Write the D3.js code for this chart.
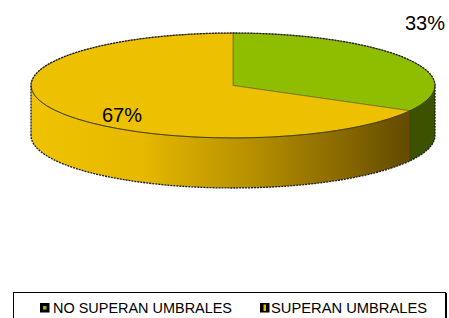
<!DOCTYPE html>
<html>
<head>
<meta charset="utf-8">
<script src="https://cdn.jsdelivr.net/npm/d3@7/dist/d3.min.js"></script>
<style>
  body { margin: 0; background: #fff; }
  svg { display: block; font-family: "Liberation Sans", Arial, sans-serif; }
</style>
</head>
<body>
<div id="viz"></div>
<script>
var categories = ["NO SUPERAN UMBRALES", "SUPERAN UMBRALES"],
    values = [33, 67],
    labels = ["33%", "67%"];

var topColors = ["#8fbe00", "#edc000"],
    markerColors = ["#8fbe00", "#e8b800"];

var width = 449, height = 318,
    cx = 233, cy = 85.5, rx = 202, ry = 52.5, depth = 50;

var svg = d3.select("#viz")
    .append("svg")
    .attr("width", width)
    .attr("height", height);

var defs = svg.append("defs");
var grad = defs.append("linearGradient")
    .attr("id", "sideYellow")
    .attr("gradientUnits", "userSpaceOnUse")
    .attr("x1", cx - rx).attr("x2", cx + rx * 0.85)
    .attr("y1", 0).attr("y2", 0);
[[0, "#efc300"], [0.3, "#e6b800"], [0.6, "#b48e00"], [0.85, "#856600"], [1, "#654c00"]]
    .forEach(function(s){
        grad.append("stop").attr("offset", s[0]).attr("stop-color", s[1]);
    });
var sideFills = ["#3d5200", "url(#sideYellow)"];

var arcs = d3.pie().sort(null)(values);

function pt(a, dy){
    return [cx + rx * Math.sin(a), cy - ry * Math.cos(a) + (dy || 0)];
}

function topPath(d){
    var p0 = pt(d.startAngle), p1 = pt(d.endAngle),
        large = (d.endAngle - d.startAngle) > Math.PI ? 1 : 0;
    return "M" + cx + "," + cy + "L" + p0 + "A" + rx + "," + ry + " 0 " + large + " 1 " + p1 + "Z";
}

function sidePath(d){
    var a0 = Math.max(d.startAngle, Math.PI / 2),
        a1 = Math.min(d.endAngle, Math.PI * 1.5);
    if (a1 <= a0) return null;
    var p0 = pt(a0), p1 = pt(a1), q0 = pt(a0, depth), q1 = pt(a1, depth);
    return "M" + p0 + "A" + rx + "," + ry + " 0 0 1 " + p1 +
        "L" + q1 + "A" + rx + "," + ry + " 0 0 0 " + q0 + "Z";
}

var pie = svg.append("g");

// sides
pie.selectAll("path.side")
    .data(arcs)
    .enter().append("path")
    .attr("class", "side")
    .attr("d", sidePath)
    .style("fill", function(d, i){return sideFills[i];})
    .style("stroke", "none");

// tops
pie.selectAll("path.top")
    .data(arcs)
    .enter().append("path")
    .attr("class", "top")
    .attr("d", topPath)
    .style("fill", function(d, i){return topColors[i];})
    .style("stroke", "#5a5a2a")
    .style("stroke-width", 0.6);

// outline: back rim, left/right verticals, bottom rim
var L = pt(Math.PI * 1.5), R = pt(Math.PI / 2);
pie.append("path")
    .attr("d", "M" + pt(Math.PI * 1.5, depth) + "L" + L +
        "A" + rx + "," + ry + " 0 0 1 " + R + "L" + pt(Math.PI / 2, depth) +
        "A" + rx + "," + ry + " 0 0 1 " + pt(Math.PI * 1.5, depth))
    .style("fill", "none")
    .style("stroke", "#1a1a1a")
    .style("stroke-width", 1.3)
    .style("stroke-dasharray", "2,1");

// front top rim
pie.append("path")
    .attr("d", "M" + R + "A" + rx + "," + ry + " 0 0 1 " + L)
    .style("fill", "none")
    .style("stroke", "#3a3000")
    .style("stroke-width", 0.8);

// slice cut on the side
var cut = pt(arcs[0].endAngle);
pie.append("line")
    .attr("x1", cut[0]).attr("y1", cut[1])
    .attr("x2", cut[0]).attr("y2", cut[1] + depth)
    .style("stroke", "#3a3a00")
    .style("stroke-width", 0.6);

// data labels
var labelPos = [[425, 30], [122, 122]];
svg.selectAll("text.lbl")
    .data(labels)
    .enter().append("text")
    .attr("class", "lbl")
    .attr("x", function(d, i){return labelPos[i][0];})
    .attr("y", function(d, i){return labelPos[i][1];})
    .attr("text-anchor", "middle")
    .style("font-size", "20px")
    .style("fill", "#000")
    .text(function(d){return d;});

// legend
var legend = svg.append("g");
legend.append("rect")
    .attr("x", 13.5).attr("y", 292.5)
    .attr("width", 432).attr("height", 40)
    .style("fill", "#fff")
    .style("stroke", "#000")
    .style("stroke-width", 1);
legend.append("line")
    .attr("x1", 446.5).attr("y1", 293).attr("x2", 446.5).attr("y2", 318)
    .style("stroke", "#000").style("stroke-width", 1);

var legX = [40, 260], legTextX = [53, 271], legTextLen = [179, 156];
var item = legend.selectAll("g.item")
    .data(categories)
    .enter().append("g")
    .attr("class", "item");
item.append("rect")
    .attr("x", function(d, i){return legX[i];})
    .attr("y", 303).attr("width", 9.5).attr("height", 9.5)
    .style("fill", "#000");
item.append("rect")
    .attr("x", function(d, i){return legX[i] + (i ? 3.5 : 3);})
    .attr("y", function(d, i){return i ? 304.5 : 306;})
    .attr("width", function(d, i){return i ? 2.5 : 3.5;})
    .attr("height", function(d, i){return i ? 6.5 : 3.5;})
    .style("fill", function(d, i){return markerColors[i];});
item.append("text")
    .attr("x", function(d, i){return legTextX[i];})
    .attr("y", 313)
    .attr("textLength", function(d, i){return legTextLen[i];})
    .attr("lengthAdjust", "spacingAndGlyphs")
    .style("font-size", "15px")
    .style("fill", "#000")
    .text(function(d){return d;});
</script>
</body>
</html>
